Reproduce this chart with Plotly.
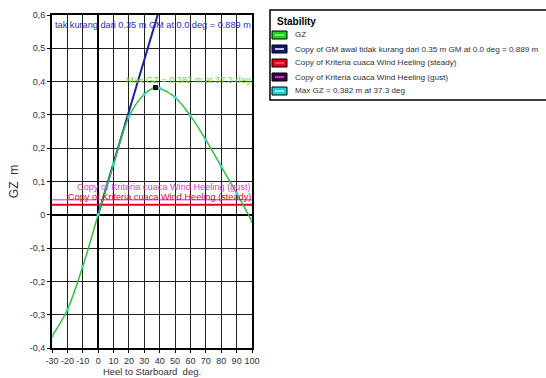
import plotly.graph_objects as go

# Righting lever curve (GZ) against heel angle
heel = [-30, -20, -10, 0, 10, 20, 30, 37.3, 40, 50, 60, 70, 80, 90, 100]
gz = [-0.365, -0.285, -0.155, 0.0, 0.152, 0.295, 0.362, 0.382, 0.380,
      0.353, 0.297, 0.225, 0.145, 0.065, -0.02]

# Initial GM line (GM drawn at 1 rad = 57.3 deg)
gm_heel = [0, 57.3]
gm_gz = [0, 0.889]

# Wind heeling levers
steady_lever = 0.030
gust_lever = 0.045
wind_heel = [-30, 100]

# Maximum GZ point
max_heel = [37.3]
max_gz = [0.382]

x_ticks = [-30, -20, -10, 0, 10, 20, 30, 40, 50, 60, 70, 80, 90, 100]
y_ticks = [-0.4, -0.3, -0.2, -0.1, 0, 0.1, 0.2, 0.3, 0.4, 0.5, 0.6]

FONT = "Liberation Sans, Arial"

fig = go.Figure()

fig.add_trace(go.Scatter(x=wind_heel, y=[steady_lever] * 2, mode="lines",
                         line=dict(color="#e8001c", width=2), hoverinfo="skip"))
fig.add_trace(go.Scatter(x=wind_heel, y=[gust_lever] * 2, mode="lines",
                         line=dict(color="#e020d0", width=1), hoverinfo="skip"))
fig.add_trace(go.Scatter(x=gm_heel, y=gm_gz, mode="lines",
                         line=dict(color="#1a20a0", width=2)))
fig.add_trace(go.Scatter(x=heel, y=gz, mode="lines+markers",
                         line=dict(color="#30c040", width=1.5, shape="spline"),
                         marker=dict(color="#30e0e0", size=3, symbol="square")))
fig.add_trace(go.Scatter(x=max_heel, y=max_gz, mode="markers",
                         marker=dict(color="black", size=5, symbol="square")))

# Curve labels, right-aligned against the right edge of the plot
labels = [
    ("tak kurang dari 0.35 m GM at 0.0 deg = 0.889 m", 0.570, "#2a2ad0"),
    ("Max GZ = 0.382 m at 37.3 deg", 0.405, "#70e040"),
    ("Copy of Kriteria cuaca Wind Heeling (gust)", 0.083, "#e040e0"),
    ("Copy of Kriteria cuaca Wind Heeling (steady)", 0.054, "#e8001c"),
]
for text, yv, col in labels:
    fig.add_annotation(x=100, y=yv, xref="x", yref="y", text=text,
                       showarrow=False, xanchor="right", yanchor="middle",
                       borderpad=0,
                       font=dict(family=FONT, size=9.2, color=col))

# Legend panel drawn in paper coordinates
W, H = 546, 378
ML, MT, MB = 52, 15, 30
PH = H - MT - MB


def px(xp):
    return (xp - ML) / (W - ML)


def py(yp):
    return (H - MB - yp) / PH


fig.add_shape(type="rect", xref="paper", yref="paper",
              x0=px(270), x1=px(560), y0=py(100), y1=py(10),
              line=dict(color="black", width=1.5), fillcolor="white")
fig.add_annotation(xref="paper", yref="paper", x=px(276), y=py(22),
                   text="<b>Stability</b>", showarrow=False,
                   xanchor="left", yanchor="middle", borderpad=0,
                   font=dict(family=FONT, size=10, color="black"))

legend_items = [
    ("GZ", "#20d020", "#90ff90"),
    ("Copy of GM awal tidak kurang dari 0.35 m GM at 0.0 deg = 0.889 m", "#101880", "#ffffff"),
    ("Copy of Kriteria cuaca Wind Heeling (steady)", "#e8001c", "#ff6060"),
    ("Copy of Kriteria cuaca Wind Heeling (gust)", "#400040", "#f040f0"),
    ("Max GZ = 0.382 m at 37.3 deg", "#20d0d0", "#a0ffff"),
]
for i, (text, fill, inner) in enumerate(legend_items):
    yc = 35 + i * 14
    fig.add_shape(type="rect", xref="paper", yref="paper",
                  x0=px(272), x1=px(287), y0=py(yc + 4), y1=py(yc - 4),
                  line=dict(color="black", width=1), fillcolor=fill)
    fig.add_shape(type="line", xref="paper", yref="paper",
                  x0=px(275), x1=px(284), y0=py(yc), y1=py(yc),
                  line=dict(color=inner, width=1.5))
    fig.add_annotation(xref="paper", yref="paper", x=px(294), y=py(yc),
                       text=text, showarrow=False, xanchor="left", yanchor="middle",
                       borderpad=0,
                       font=dict(family=FONT, size=8.1, color="#303040"))

axis_common = dict(showgrid=True, gridcolor="#202020", gridwidth=1,
                   zeroline=True, zerolinecolor="black", zerolinewidth=2,
                   showline=True, linecolor="black", linewidth=2, mirror=True,
                   ticks="outside", ticklen=3, tickcolor="black",
                   automargin=False,
                   tickfont=dict(family=FONT, size=9, color="#303040"))

fig.update_layout(
    width=W, height=H,
    margin=dict(l=ML, r=0, t=MT, b=MB),
    paper_bgcolor="white", plot_bgcolor="white",
    showlegend=False,
    separators=",.",
    xaxis=dict(range=[-30, 100], domain=[0, 200 / (W - ML)],
               tickvals=x_ticks, ticktext=[str(v) for v in x_ticks],
               tickangle=0,
               title=dict(text="Heel to Starboard  deg.", standoff=2,
                          font=dict(family=FONT, size=9.5, color="#303040")),
               **axis_common),
    yaxis=dict(range=[-0.4, 0.6], tickvals=y_ticks,
               ticktext=[f"{v:g}".replace(".", ",") for v in y_ticks],
               title=dict(text="GZ  m", standoff=8,
                          font=dict(family=FONT, size=12, color="#303040")),
               **axis_common),
)

fig.write_html("out.html")
